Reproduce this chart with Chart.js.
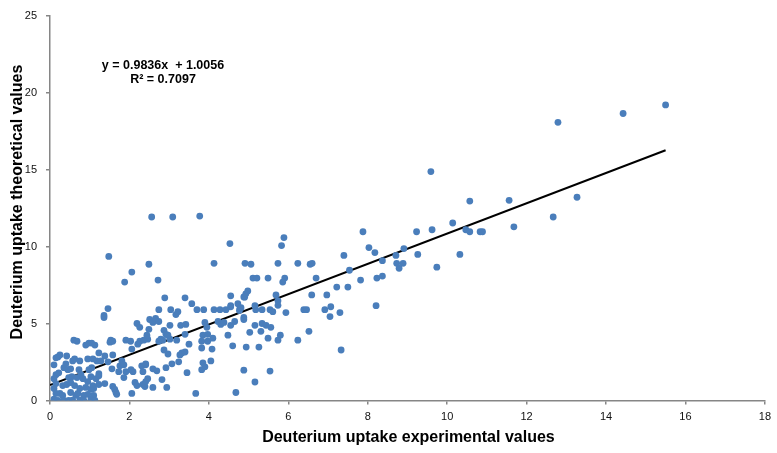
<!DOCTYPE html>
<html>
<head>
<meta charset="utf-8">
<script src="https://cdn.jsdelivr.net/npm/chart.js@4/dist/chart.umd.min.js"></script>
<style>
html,body{margin:0;padding:0;background:#fff;}
#wrap{width:777px;height:453px;position:relative;}
</style>
</head>
<body>
<div id="wrap"><canvas id="c" width="777" height="453"></canvas></div>
<script>
// Experimental (x) vs theoretical (y) deuterium uptake
const points = [
[0.60,3.92],[0.68,3.85],[0.98,3.73],[1.05,3.73],[0.90,3.60],[1.13,3.60],
[0.20,2.83],[0.25,2.96],[0.15,2.77],[0.42,2.89],[0.62,2.70],[0.57,2.57],[0.75,2.57],[0.95,2.70],[1.08,2.70],[1.18,2.57],
[0.35,2.13],[0.45,2.00],[0.52,2.06],[0.73,2.00],[0.98,2.00],[1.05,2.13],
[0.15,1.68],[0.22,1.80],[0.55,1.55],[0.47,1.49],[0.68,1.49],[0.78,1.68],[0.83,1.42],[1.03,1.55],[0.95,1.23],[1.16,1.42],
[0.15,1.10],[0.10,0.78],[0.32,0.97],[0.42,1.04],[0.52,1.17],[0.62,0.97],[0.75,0.78],[0.90,0.85],[1.03,0.72],[1.08,0.97],
[0.25,0.46],[0.32,0.33],[0.52,0.52],[0.65,0.33],[0.70,0.46],[0.85,0.33],[0.95,0.40],[1.10,0.78],[1.10,0.33],
[0.10,0.08],[0.20,0.00],[0.35,0.00],[0.47,0.00],[0.57,0.02],[0.75,0.02],[0.85,0.00],[1.03,0.08],[1.13,0.00],
[0.15,0.46],[0.10,1.42],[0.10,2.32],[0.40,2.38],
[1.53,3.92],[1.58,3.85],[1.51,3.79],[1.91,3.92],[2.03,3.85],[2.06,3.34],[2.46,3.98],[2.36,3.92],
[1.23,3.09],[1.38,2.89],[1.58,2.96],[1.28,2.57],[1.46,2.51],[1.81,2.57],[1.76,2.25],[1.86,2.32],
[1.56,2.06],[1.73,1.87],[1.91,1.87],[2.04,2.00],[2.09,1.87],[2.31,2.25],[2.41,2.32],[2.34,1.87],
[1.23,1.74],[1.23,1.61],[1.23,1.04],[1.38,1.10],[1.58,0.91],[1.63,0.72],[1.66,0.52],[1.68,0.40],
[1.86,1.49],[2.14,1.17],[2.19,0.97],[2.06,0.46],[2.34,1.04],[2.39,0.91],[2.46,1.42],
[2.21,3.66],[2.26,3.85],
[1.48,9.36],[2.06,8.34],[1.88,7.69],[2.49,8.85],[1.46,5.97],[1.36,5.52],[1.36,5.39],[2.19,5.00],[2.26,4.75],[2.49,4.62],
[2.56,11.92],[3.09,11.92],[3.77,11.98],[4.53,10.19],[4.13,8.91],[2.72,7.82],[2.89,6.67],[3.40,6.67],[3.57,6.29],[4.55,6.80],[4.73,6.29],[4.55,6.16],[4.88,6.73],
[2.74,5.90],[3.04,5.90],[3.22,5.77],[3.17,5.58],[3.70,5.90],[3.87,5.90],[4.13,5.90],[4.28,5.90],[4.43,5.90],[4.55,6.09],[4.78,5.97],
[4.88,5.39],[2.51,5.26],[2.59,5.07],[2.66,5.33],[2.74,5.13],[2.44,4.24],
[3.02,4.88],[2.87,4.56],[2.92,4.30],[3.29,4.88],[3.42,4.94],[3.90,5.07],[3.95,4.75],[4.23,5.13],[4.30,4.94],[4.38,5.07],[4.55,4.88],[4.65,5.13],
[2.74,3.85],[2.79,3.98],[2.84,3.92],[3.02,3.98],[3.19,3.92],[2.97,4.24],[3.40,4.30],[3.85,4.24],[3.97,4.30],[3.82,3.85],[3.97,3.85],[4.10,4.05],[4.48,4.24],[4.60,3.55],
[3.50,3.66],[3.82,3.41],[4.08,3.34],[2.87,3.28],[2.97,3.02],[3.32,3.09],[3.27,2.96],[3.40,3.15],[3.24,2.51],[3.07,2.38],[2.92,2.13],[2.41,2.38],[2.59,2.06],[2.69,1.93],
[3.85,2.45],[3.90,2.19],[3.82,2.00],[4.05,2.57],[2.41,1.23],[2.82,1.36],[2.59,0.85],[2.94,0.85],[3.45,1.81],[3.67,0.46],[4.68,0.52],
[5.89,10.58],[5.83,10.06],[7.40,9.42],[4.91,8.91],[5.06,8.85],[5.74,8.91],[6.24,8.91],[6.55,8.85],[6.60,8.91],[7.54,8.46],
[5.11,7.95],[5.21,7.95],[5.49,7.95],[5.91,7.95],[5.86,7.69],[6.70,7.95],[7.22,7.37],[7.50,7.37],
[4.98,7.12],[4.93,6.93],[4.90,6.71],[5.69,6.86],[6.59,6.86],[6.97,6.86],[5.74,6.48],[5.74,6.18],[5.16,6.16],[4.81,6.03],[4.77,5.84],
[5.18,5.90],[5.34,5.90],[5.54,5.90],[5.61,5.77],[5.94,5.71],[6.39,5.90],[6.46,5.90],[6.92,5.90],[7.07,6.09],[7.30,5.71],[7.05,5.45],
[4.88,5.26],[5.16,4.88],[5.34,5.00],[5.44,4.88],[5.56,4.75],[5.03,4.43],[5.31,4.49],[5.80,4.24],[5.74,3.92],[5.49,4.05],[6.52,4.49],[6.24,3.92],
[4.94,3.47],[5.26,3.47],[7.33,3.28],[4.88,1.97],[5.54,1.91],[5.16,1.20],
[9.59,14.87],[10.57,12.95],[10.14,11.53],[10.47,11.09],[10.57,10.96],[10.83,10.96],[10.89,10.96],[9.62,11.09],[9.23,10.96],[7.88,10.96],
[8.03,9.93],[8.18,9.61],[8.91,9.87],[8.71,9.42],[9.26,9.49],[10.32,9.49],[8.37,9.08],[8.73,8.91],[8.89,8.91],[8.79,8.59],[9.74,8.66],
[7.82,7.82],[8.23,7.95],[8.37,8.08],[8.21,6.16],
[12.79,18.07],[14.43,18.64],[15.50,19.20],[11.56,13.00],[13.27,13.20],[12.67,11.92],[11.68,11.28]
];

// Linear trendline as printed on the chart
const trendSlope = 0.9836;
const trendIntercept = 1.0056;
const trendRange = [0, 15.5];
const equationLines = ["y = 0.9836x  + 1.0056", "R\u00B2 = 0.7097"];

const xTitle = "Deuterium uptake experimental values";
const yTitle = "Deuterium uptake theoretical values";
const xTicks = [0, 2, 4, 6, 8, 10, 12, 14, 16, 18];
const yTicks = [0, 5, 10, 15, 20, 25];

const scatterData = points.map(p => ({x: p[0], y: p[1]}));
const trendData = trendRange.map(x => ({x: x, y: trendSlope * x + trendIntercept}));

const textPlugin = {
  id: 'texts',
  afterDraw(chart) {
    const ctx = chart.ctx;
    const xs = chart.scales.x, ys = chart.scales.y;
    ctx.save();
    ctx.fillStyle = '#000';
    ctx.textAlign = 'center';
    ctx.textBaseline = 'middle';
    ctx.font = 'bold 16px "Liberation Sans", Arial, sans-serif';
    ctx.fillText(xTitle, (xs.left + xs.right) / 2 + 1, 438);
    ctx.save();
    ctx.translate(18, 202);
    ctx.rotate(-Math.PI / 2);
    ctx.fillText(yTitle, 0, 0);
    ctx.restore();
    ctx.font = 'bold 12.5px "Liberation Sans", Arial, sans-serif';
    ctx.fillText(equationLines[0], 163, 66);
    ctx.fillText(equationLines[1], 163, 80);
    ctx.restore();
  }
};

const axisColor = '#868686';
new Chart(document.getElementById('c'), {
  type: 'scatter',
  data: {
    datasets: [
      {
        label: 'data',
        data: scatterData,
        backgroundColor: '#4a7ebb',
        borderColor: '#4a7ebb',
        borderWidth: 0,
        pointRadius: 3.4,
        pointHoverRadius: 3.4
      },
      {
        type: 'line',
        label: 'trend',
        data: trendData,
        borderColor: '#000',
        borderWidth: 2,
        pointRadius: 0,
        fill: false
      }
    ]
  },
  options: {
    responsive: false,
    animation: false,
    devicePixelRatio: 1,
    layout: { padding: { left: 0, right: 11, top: 10, bottom: 0 } },
    plugins: { legend: { display: false }, tooltip: { enabled: false } },
    scales: {
      x: {
        type: 'linear', min: 0, max: 18,
        afterBuildTicks(s) { s.ticks = xTicks.map(v => ({value: v})); },
        afterFit(s) { s.height = 52.5; },
        grid: { drawOnChartArea: false, drawTicks: true, tickLength: 4, color: axisColor, lineWidth: 1.5 },
        border: { display: true, color: axisColor, width: 1.5 },
        ticks: { color: '#111', padding: 6, maxRotation: 0, font: { family: '"Liberation Sans", Arial, sans-serif', size: 11 } }
      },
      y: {
        type: 'linear', min: 0, max: 25,
        afterBuildTicks(s) { s.ticks = yTicks.map(v => ({value: v})); },
        afterFit(s) { s.width = 50; },
        grid: { drawOnChartArea: false, drawTicks: true, tickLength: 4, color: axisColor, lineWidth: 1.5 },
        border: { display: true, color: axisColor, width: 1.5 },
        ticks: { color: '#111', padding: 9, font: { family: '"Liberation Sans", Arial, sans-serif', size: 11 } }
      }
    }
  },
  plugins: [textPlugin]
});
</script>
</body>
</html>
